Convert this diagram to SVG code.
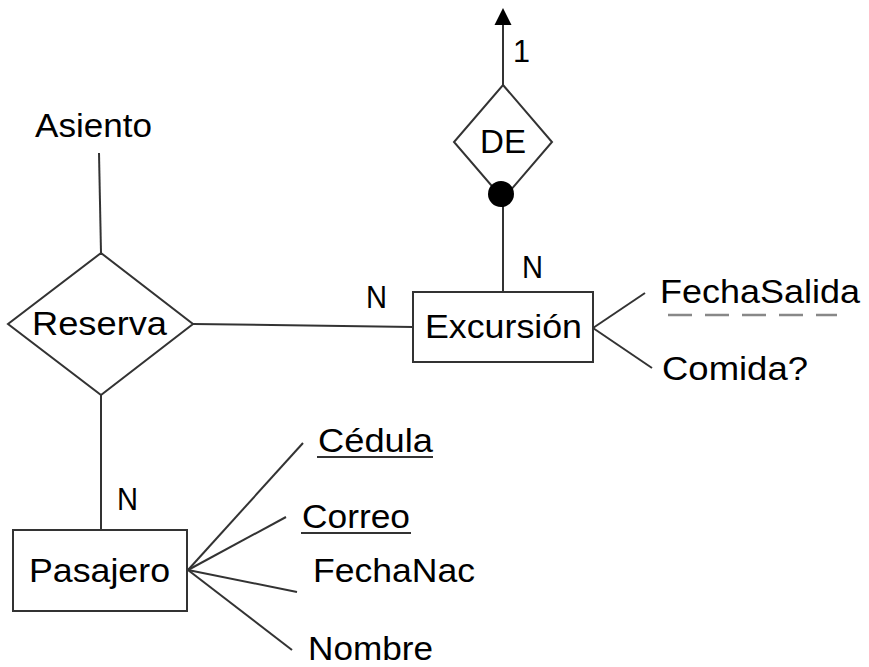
<svg xmlns="http://www.w3.org/2000/svg" width="869" height="667" viewBox="0 0 869 667">
<style>
.s{fill:none;stroke:#333;stroke-width:2}
.box{fill:#fff;stroke:#333;stroke-width:2}
.t{font-family:"Liberation Sans",Arial,sans-serif;font-size:33px;fill:#000}
.c{font-family:"Liberation Sans",Arial,sans-serif;font-size:31px;fill:#000}
.u{stroke:#333;stroke-width:2}
</style>
<g id="connectors">
<line class="s" x1="99" y1="153" x2="101" y2="253"/>
<line class="s" x1="193" y1="324" x2="413" y2="327"/>
<line class="s" x1="101" y1="395" x2="101" y2="530"/>
<line class="s" x1="503" y1="199" x2="503" y2="292"/>
<path class="s" d="M503,85 L503,25"/>
<path d="M503,8 L511.5,25 L494.5,25 Z" fill="#000"/>
<line class="s" x1="593" y1="328" x2="645" y2="293"/>
<line class="s" x1="593" y1="328" x2="652" y2="368"/>
<line class="s" x1="188" y1="570" x2="303" y2="443"/>
<line class="s" x1="188" y1="570" x2="286" y2="517"/>
<line class="s" x1="188" y1="570" x2="297" y2="592"/>
<line class="s" x1="188" y1="570" x2="292" y2="650"/>
<text class="c" x="513" y="62" textLength="17" lengthAdjust="spacingAndGlyphs">1</text>
<text class="c" x="522" y="278" textLength="21" lengthAdjust="spacingAndGlyphs">N</text>
<text class="c" x="366" y="308" textLength="21" lengthAdjust="spacingAndGlyphs">N</text>
<text class="c" x="117" y="510" textLength="21" lengthAdjust="spacingAndGlyphs">N</text>
</g>
<g id="DE">
<polygon class="box" points="503,85 552,142 503,199 454,142"/>
<circle cx="501" cy="194" r="13" fill="#000"/>
<text class="t" x="480" y="153" textLength="46" lengthAdjust="spacingAndGlyphs">DE</text>
</g>
<g id="Reserva">
<polygon class="box" points="101,253 193,324 101,395 8,324"/>
<text class="t" x="32" y="335" textLength="135" lengthAdjust="spacingAndGlyphs">Reserva</text>
</g>
<g id="Excursion">
<rect class="box" x="413" y="292" width="180" height="70"/>
<text class="t" x="425" y="338" textLength="157" lengthAdjust="spacingAndGlyphs">Excursión</text>
</g>
<g id="Pasajero">
<rect class="box" x="13" y="530" width="174" height="81"/>
<text class="t" x="29" y="582" textLength="141" lengthAdjust="spacingAndGlyphs">Pasajero</text>
</g>
<g id="Asiento">
<text class="t" x="35" y="137" textLength="117" lengthAdjust="spacingAndGlyphs">Asiento</text>
</g>
<g id="FechaSalida">
<text class="t" x="660" y="303" textLength="200" lengthAdjust="spacingAndGlyphs">FechaSalida</text>
<line x1="668" y1="315" x2="837" y2="315" stroke="#888" stroke-width="2.5" stroke-dasharray="24,13"/>
</g>
<g id="Comida">
<text class="t" x="662" y="380" textLength="146" lengthAdjust="spacingAndGlyphs">Comida?</text>
</g>
<g id="Cedula">
<text class="t" x="318" y="452" textLength="115" lengthAdjust="spacingAndGlyphs">Cédula</text>
<line class="u" x1="317" y1="457" x2="433" y2="457"/>
</g>
<g id="Correo">
<text class="t" x="302" y="528" textLength="108" lengthAdjust="spacingAndGlyphs">Correo</text>
<line class="u" x1="301" y1="533" x2="411" y2="533"/>
</g>
<g id="FechaNac">
<text class="t" x="313" y="582" textLength="162" lengthAdjust="spacingAndGlyphs">FechaNac</text>
</g>
<g id="Nombre">
<text class="t" x="308" y="660" textLength="125" lengthAdjust="spacingAndGlyphs">Nombre</text>
</g>
</svg>
